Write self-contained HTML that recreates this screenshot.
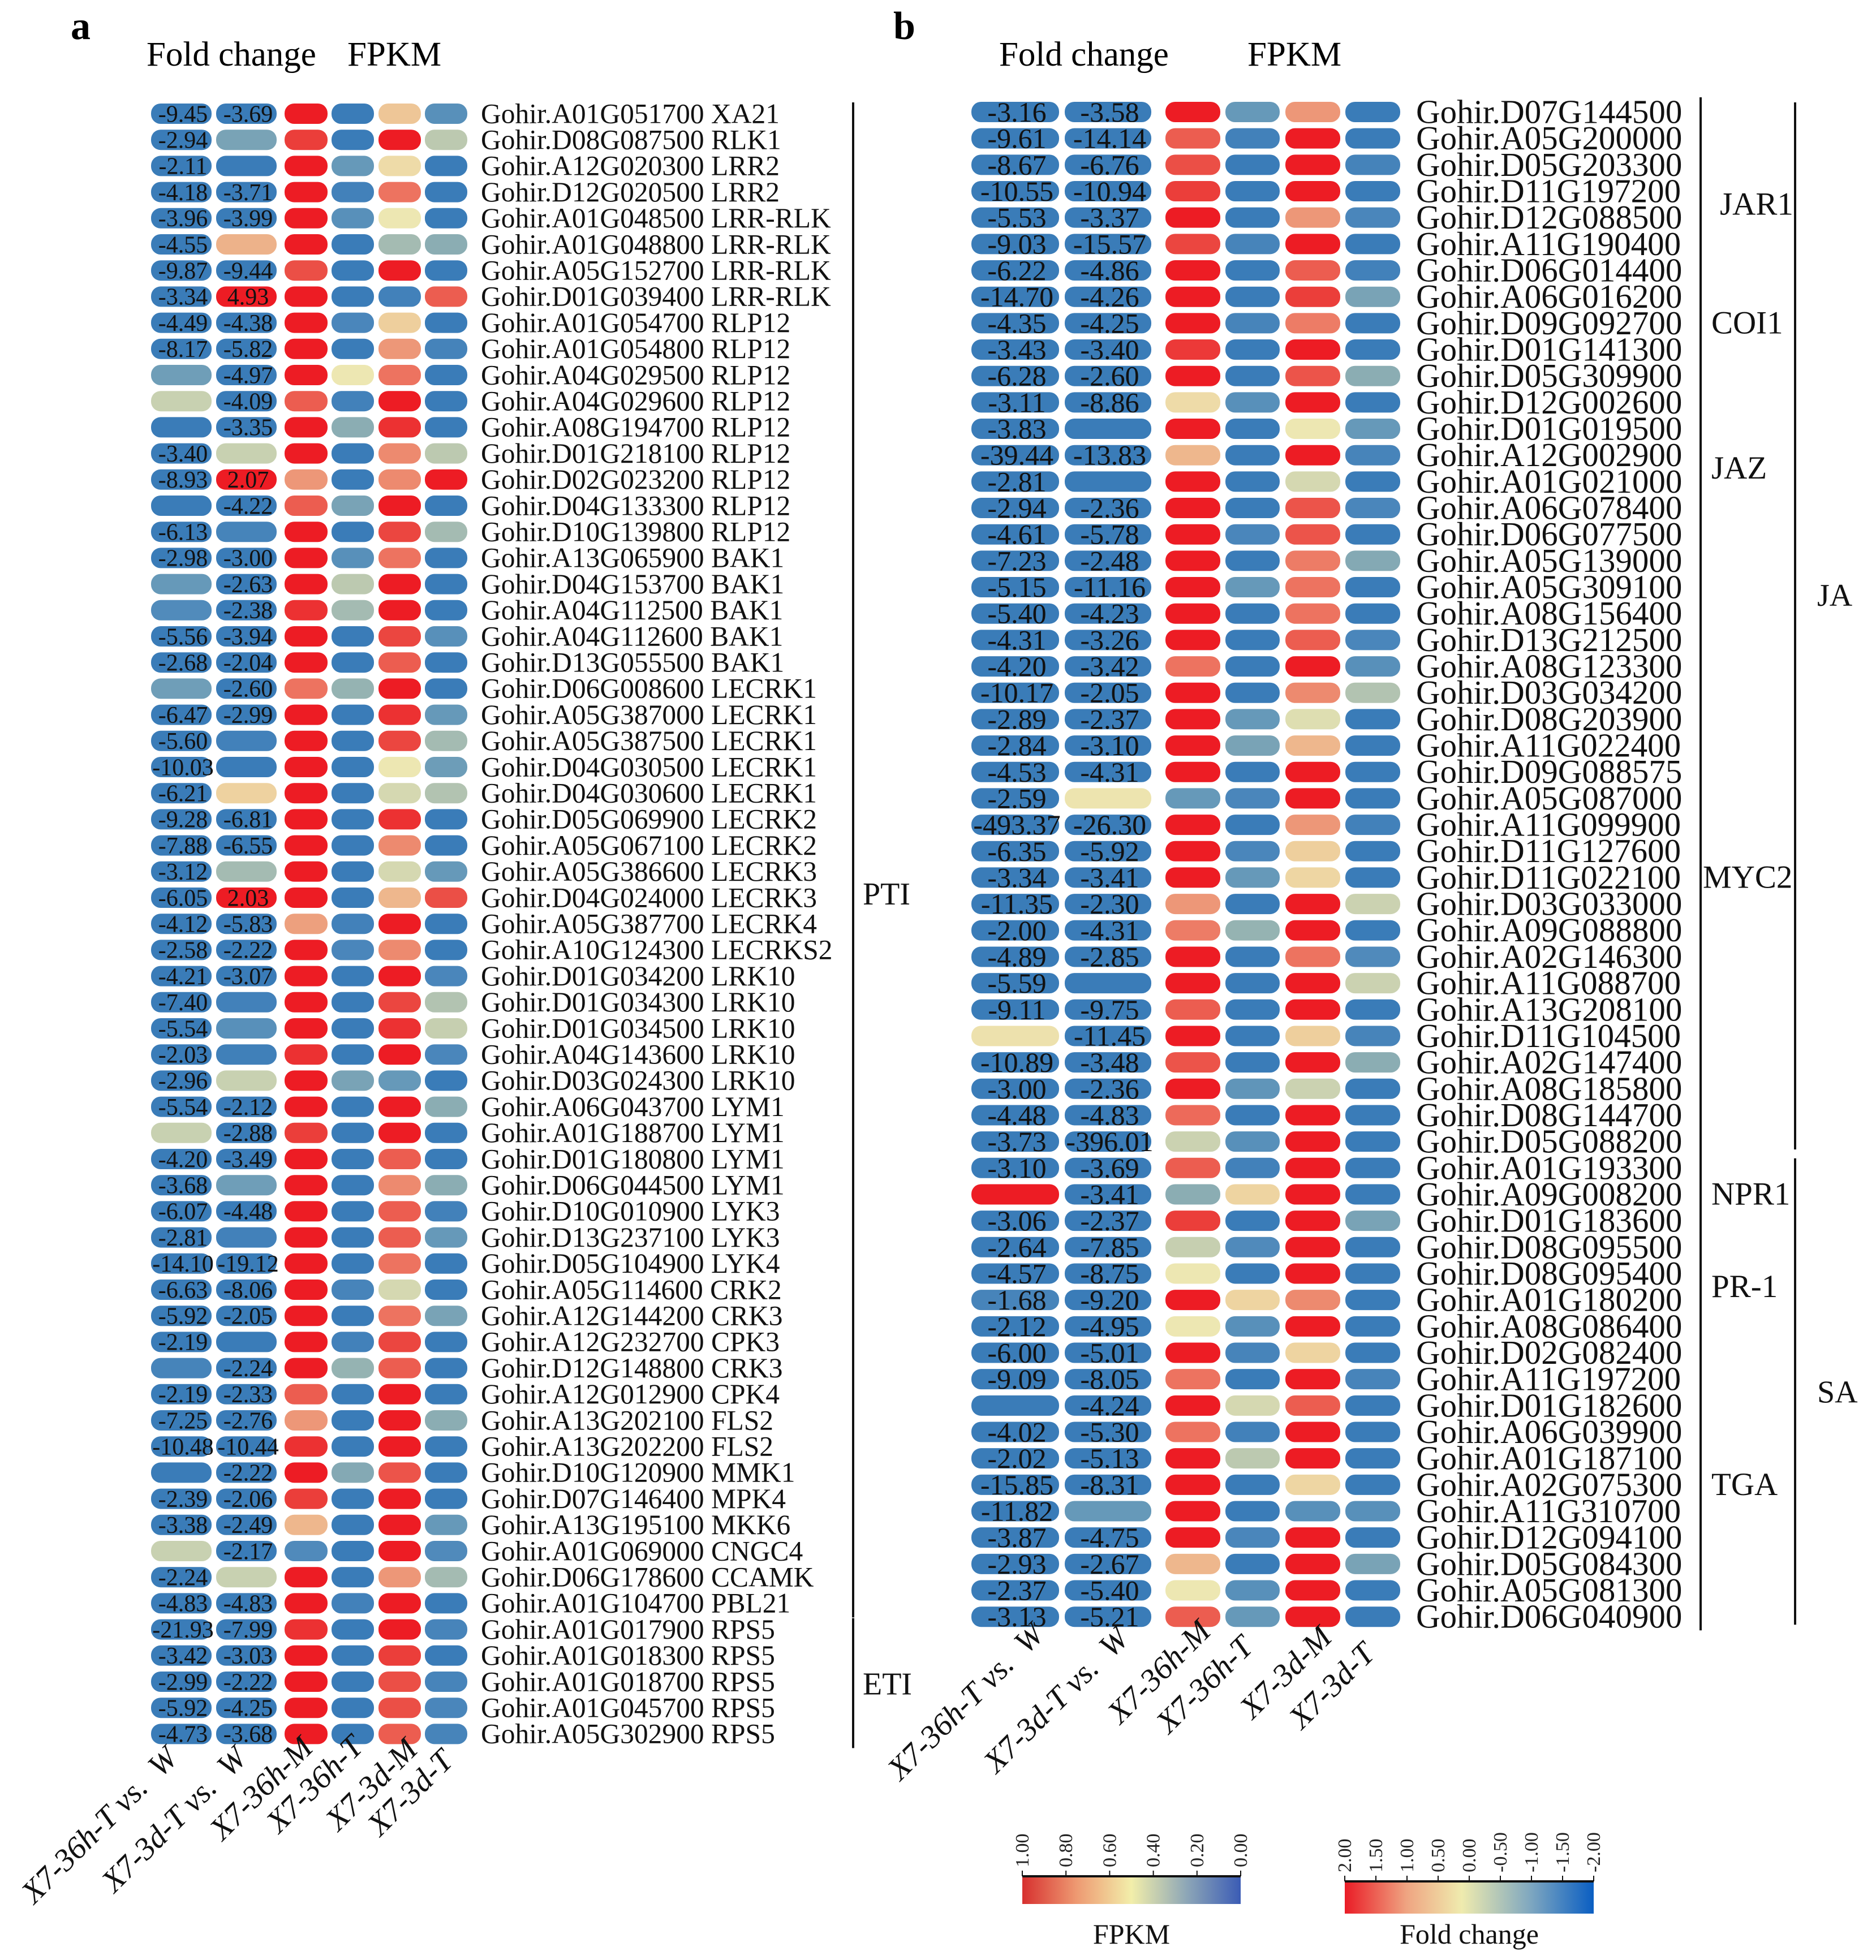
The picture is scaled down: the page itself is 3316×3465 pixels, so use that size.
<!DOCTYPE html>
<html><head><meta charset="utf-8"><style>
html,body{margin:0;padding:0;background:#fff;}
svg{display:block;font-family:"Liberation Serif",serif;}
</style></head><body>
<svg id="fig" width="3316" height="3465" viewBox="0 0 3316 3465" xmlns="http://www.w3.org/2000/svg">
<g>
<text x="125" y="69" font-size="70" font-weight="bold">a</text>
<text x="259" y="116" font-size="61">Fold change</text>
<text x="614" y="116" font-size="61">FPKM</text>
</g>
<g>
<text x="1579" y="69" font-size="70" font-weight="bold">b</text>
<text x="1766" y="116" font-size="61">Fold change</text>
<text x="2205" y="116" font-size="61">FPKM</text>
</g>
<g id="cellsA"></g>
<g id="cellsB"></g>
<g id="brackets"></g>
<g id="xlabels"></g>
<g id="legends"></g>
</svg>
<script>
// ---------------- Panel a data ----------------
const genesA = ["Gohir.A01G051700 XA21","Gohir.D08G087500 RLK1","Gohir.A12G020300 LRR2","Gohir.D12G020500 LRR2","Gohir.A01G048500 LRR-RLK","Gohir.A01G048800 LRR-RLK","Gohir.A05G152700 LRR-RLK","Gohir.D01G039400 LRR-RLK","Gohir.A01G054700 RLP12","Gohir.A01G054800 RLP12","Gohir.A04G029500 RLP12","Gohir.A04G029600 RLP12","Gohir.A08G194700 RLP12","Gohir.D01G218100 RLP12","Gohir.D02G023200 RLP12","Gohir.D04G133300 RLP12","Gohir.D10G139800 RLP12","Gohir.A13G065900 BAK1","Gohir.D04G153700 BAK1","Gohir.A04G112500 BAK1","Gohir.A04G112600 BAK1","Gohir.D13G055500 BAK1","Gohir.D06G008600 LECRK1","Gohir.A05G387000 LECRK1","Gohir.A05G387500 LECRK1","Gohir.D04G030500 LECRK1","Gohir.D04G030600 LECRK1","Gohir.D05G069900 LECRK2","Gohir.A05G067100 LECRK2","Gohir.A05G386600 LECRK3","Gohir.D04G024000 LECRK3","Gohir.A05G387700 LECRK4","Gohir.A10G124300 LECRKS2","Gohir.D01G034200 LRK10","Gohir.D01G034300 LRK10","Gohir.D01G034500 LRK10","Gohir.A04G143600 LRK10","Gohir.D03G024300 LRK10","Gohir.A06G043700 LYM1","Gohir.A01G188700 LYM1","Gohir.D01G180800 LYM1","Gohir.D06G044500 LYM1","Gohir.D10G010900 LYK3","Gohir.D13G237100 LYK3","Gohir.D05G104900 LYK4","Gohir.A05G114600 CRK2","Gohir.A12G144200 CRK3","Gohir.A12G232700 CPK3","Gohir.D12G148800 CRK3","Gohir.A12G012900 CPK4","Gohir.A13G202100 FLS2","Gohir.A13G202200 FLS2","Gohir.D10G120900 MMK1","Gohir.D07G146400 MPK4","Gohir.A13G195100 MKK6","Gohir.A01G069000 CNGC4","Gohir.D06G178600 CCAMK","Gohir.A01G104700 PBL21","Gohir.A01G017900 RPS5","Gohir.A01G018300 RPS5","Gohir.A01G018700 RPS5","Gohir.A01G045700 RPS5","Gohir.A05G302900 RPS5"];
// "~x" = unlabelled cell whose colour corresponds to fold-change x
const fc1A = [-9.45,-2.94,-2.11,-4.18,-3.96,-4.55,-9.87,-3.34,-4.49,-8.17,"~-1.1","~-0.3","~-2",-3.40,-8.93,"~-2",-6.13,-2.98,"~-1.2","~-1.5",-5.56,-2.68,"~-1.1",-6.47,-5.60,-10.03,-6.21,-9.28,-7.88,-3.12,-6.05,-4.12,-2.58,-4.21,-7.40,-5.54,-2.03,-2.96,-5.54,"~-0.3",-4.20,-3.68,-6.07,-2.81,-14.10,-6.63,-5.92,-2.19,"~-1.7",-2.19,-7.25,-10.48,"~-2",-2.39,-3.38,"~-0.3",-2.24,-4.83,-21.93,-3.42,-2.99,-5.92,-4.73];
const fc2A = [-3.69,"~-1",  "~-2",-3.71,-3.99,"~0.65",-9.44,4.93,-4.38,-5.82,-4.97,-4.09,-3.35,"~-0.3",2.07,-4.22,"~-1.7",-3.00,-2.63,-2.38,-3.94,-2.04,-2.60,-2.99,"~-1.8","~-2","~0.35",-6.81,-6.55,"~-0.6",2.03,-5.83,-2.22,-3.07,"~-1.8","~-1.4","~-1.85","~-0.3",-2.12,-2.88,-3.49,"~-1.1",-4.48,"~-1.8",-19.12,-8.06,-2.05,"~-2",-2.24,-2.33,-2.76,-10.44,-2.22,-2.06,-2.49,-2.17,"~-0.3",-4.83,-7.99,-3.03,-2.22,-4.25,-3.68];
const m36A = [1,0.92,1,1,1,1,0.88,1,1,1,1,0.85,1,1,0.72,0.85,1,1,1,0.95,1,1,0.8,1,1,1,1,1,1,1,1,0.7,1,1,1,1,0.95,1,1,0.92,1,1,1,1,1,1,1,1,1,0.85,0.72,0.95,1,0.92,0.65,0.12,1,1,0.95,1,1,1,1];
const t36A = [0,0,0.2,0.05,0.15,0,0,0,0.1,0,0.5,0.05,0.3,0,0,0.25,0,0.15,0.4,0.35,0,0,0.32,0,0,0,0,0,0,0,0,0.05,0.1,0,0,0,0,0.25,0,0,0,0,0,0,0,0.08,0,0.05,0.32,0,0,0,0.28,0,0,0,0,0.05,0,0,0,0,0];
const m3dA = [0.62,1,0.55,0.8,0.5,0.35,1,0.05,0.6,0.72,0.8,1,0.95,0.75,0.75,1,0.9,0.8,1,1,0.9,0.85,1,0.95,0.9,0.5,0.45,0.95,0.75,0.45,0.65,1,0.75,1,0.9,0.95,1,0.2,1,1,0.85,0.75,0.85,0.85,0.8,0.45,0.8,0.9,0.85,1,1,1,0.87,1,1,1,0.72,1,1,0.92,0.88,0.88,0.85];
const t3dA = [0.15,0.4,0,0,0,0.3,0,0.85,0,0.07,0,0,0,0.4,1,0,0.35,0,0,0,0.15,0,0,0.2,0.35,0.22,0.38,0,0,0.2,0.88,0,0,0.1,0.38,0.42,0.1,0,0.3,0,0,0.3,0.05,0.2,0,0,0.25,0,0,0,0.3,0,0,0,0.2,0.12,0.35,0,0.08,0,0.08,0.1,0.08];
const groupsA = [["PTI",0,57],["ETI",58,62]];

// ---------------- Panel b data ----------------
const genesB = ["Gohir.D07G144500","Gohir.A05G200000","Gohir.D05G203300","Gohir.D11G197200","Gohir.D12G088500","Gohir.A11G190400","Gohir.D06G014400","Gohir.A06G016200","Gohir.D09G092700","Gohir.D01G141300","Gohir.D05G309900","Gohir.D12G002600","Gohir.D01G019500","Gohir.A12G002900","Gohir.A01G021000","Gohir.A06G078400","Gohir.D06G077500","Gohir.A05G139000","Gohir.A05G309100","Gohir.A08G156400","Gohir.D13G212500","Gohir.A08G123300","Gohir.D03G034200","Gohir.D08G203900","Gohir.A11G022400","Gohir.D09G088575","Gohir.A05G087000","Gohir.A11G099900","Gohir.D11G127600","Gohir.D11G022100","Gohir.D03G033000","Gohir.A09G088800","Gohir.A02G146300","Gohir.A11G088700","Gohir.A13G208100","Gohir.D11G104500","Gohir.A02G147400","Gohir.A08G185800","Gohir.D08G144700","Gohir.D05G088200","Gohir.A01G193300","Gohir.A09G008200","Gohir.D01G183600","Gohir.D08G095500","Gohir.D08G095400","Gohir.A01G180200","Gohir.A08G086400","Gohir.D02G082400","Gohir.A11G197200","Gohir.D01G182600","Gohir.A06G039900","Gohir.A01G187100","Gohir.A02G075300","Gohir.A11G310700","Gohir.D12G094100","Gohir.D05G084300","Gohir.A05G081300","Gohir.D06G040900"];
const fc1B = [-3.16,-9.61,-8.67,-10.55,-5.53,-9.03,-6.22,-14.70,-4.35,-3.43,-6.28,-3.11,-3.83,-39.44,-2.81,-2.94,-4.61,-7.23,-5.15,-5.40,-4.31,-4.20,-10.17,-2.89,-2.84,-4.53,-2.59,-493.37,-6.35,-3.34,-11.35,-2.00,-4.89,-5.59,-9.11,"~0.1",-10.89,-3.00,-4.48,-3.73,-3.10,"~2",-3.06,-2.64,-4.57,-1.68,-2.12,-6.00,-9.09,"~-2",-4.02,-2.02,-15.85,-11.82,-3.87,-2.93,-2.37,-3.13];
const fc2B = [-3.58,-14.14,-6.76,-10.94,-3.37,-15.57,-4.86,-4.26,-4.25,-3.40,-2.60,-8.86,"~-2",-13.83,"~-2",-2.36,-5.78,-2.48,-11.16,-4.23,-3.26,-3.42,-2.05,-2.37,-3.10,-4.31,"~0.05",-26.30,-5.92,-3.41,-2.30,-4.31,-2.85,"~-2",-9.75,-11.45,-3.48,-2.36,-4.83,-396.01,-3.69,-3.41,-2.37,-7.85,-8.75,-9.20,-4.95,-5.01,-8.05,-4.24,-5.30,-5.13,-8.31,"~-1.2",-4.75,-2.67,-5.40,-5.21];
const m36B = [1,0.85,0.88,0.92,1,0.9,1,1,1,0.93,1,0.55,1,0.65,1,1,1,1,1,1,1,0.8,1,1,1,1,0.2,1,1,1,0.72,0.78,1,1,0.85,1,0.87,1,0.82,0.43,0.85,0.3,0.92,0.42,0.5,1,0.5,1,0.8,1,0.8,1,1,1,1,0.65,0.5,0.85];
const t36B = [0.2,0.05,0,0,0,0.08,0,0,0.08,0,0,0.15,0,0,0,0,0.1,0,0.2,0,0,0,0,0.2,0.25,0,0.1,0,0.1,0.2,0,0.32,0,0,0,0,0,0.18,0,0.15,0.05,0.58,0,0.12,0,0.58,0.15,0.08,0,0.45,0.05,0.4,0,0,0.1,0,0.15,0.2];
const m3dB = [0.72,1,1,1,0.72,1,0.85,0.92,0.78,1,0.87,1,0.5,1,0.45,0.87,0.87,0.78,0.8,0.8,0.85,1,0.75,0.47,0.65,1,1,0.72,0.6,0.57,1,1,0.8,1,1,0.6,1,0.43,1,1,1,1,1,1,1,0.75,1,0.58,1,0.85,1,1,0.57,0.15,1,1,1,1];
const t3dB = [0,0,0.07,0,0.1,0,0.05,0.25,0,0,0.3,0,0.2,0.08,0,0.1,0,0.28,0,0,0.1,0.15,0.38,0,0,0,0,0.05,0,0,0.43,0,0.12,0.43,0,0.08,0.3,0,0,0,0,0,0.25,0,0,0,0,0,0.08,0,0,0,0,0.15,0,0.25,0,0];
const innerGroupsB = [["JAR1",0,7],["COI1",8,8],["JAZ",9,18],["MYC2",19,39],["NPR1",40,42],["PR-1",43,46],["TGA",47,57]];
const outerGroupsB = [["JA",0,39],["SA",40,57]];

const colNames = ["X7-36h-T vs.  W","X7-3d-T vs.  W","X7-36h-M","X7-36h-T","X7-3d-M","X7-3d-T"];
const fpkmTicks = ["1.00","0.80","0.60","0.40","0.20","0.00"];
const fcTicks = ["2.00","1.50","1.00","0.50","0.00","-0.50","-1.00","-1.50","-2.00"];

// ---------------- helpers ----------------
const NS = "http://www.w3.org/2000/svg";
const stops = [[0,[58,124,184]],[0.1,[74,134,187]],[0.2,[102,153,185]],[0.3,[139,173,179]],[0.4,[188,201,176]],[0.5,[237,231,178]],[0.6,[238,207,157]],[0.7,[237,160,126]],[0.8,[237,115,96]],[0.9,[235,70,64]],[1,[237,28,36]]];
function colorAt(t){
  t = Math.max(0, Math.min(1, t));
  for (let i = 1; i < stops.length; i++) {
    if (t <= stops[i][0]) {
      const a = stops[i-1], b = stops[i];
      const f = (t - a[0]) / (b[0] - a[0]);
      const c = a[1].map((v, k) => Math.round(v + (b[1][k] - v) * f));
      return "rgb(" + c.join(",") + ")";
    }
  }
  return "rgb(237,28,36)";
}
function fcScale(v){ return (Math.max(-2, Math.min(2, v)) + 2) / 4; }
function mk(tag, attrs, parent){
  const e = document.createElementNS(NS, tag);
  for (const k in attrs) e.setAttribute(k, attrs[k]);
  parent.appendChild(e);
  return e;
}

function drawPanel(gid, cfg, genes, fcs, fpkms){
  const g = document.getElementById(gid);
  const rowY = i => cfg.y0 + i * cfg.pitch;
  genes.forEach((name, i) => {
    const cy = rowY(i);
    fcs.forEach((arr, c) => {
      const raw = arr[i];
      const blank = typeof raw === "string";
      const v = blank ? parseFloat(raw.slice(1)) : raw;
      const r = mk("rect", {x: cfg.cols[c][0], y: cy - cfg.h/2, width: cfg.cols[c][1] - cfg.cols[c][0], height: cfg.h, rx: cfg.rx, fill: colorAt(fcScale(v))}, g);
      
      
      if (!blank) {
        const t = mk("text", {x: (cfg.cols[c][0] + cfg.cols[c][1]) / 2 + cfg.numDx, y: cy + cfg.numFs * 0.34, "font-size": cfg.numFs, "text-anchor": "middle", fill: "#111"}, g);
        t.textContent = v.toFixed(2);
        
        
      }
    });
    fpkms.forEach((arr, c) => {
      const col = cfg.cols[c + 2];
      const r = mk("rect", {x: col[0], y: cy - cfg.h/2, width: col[1] - col[0], height: cfg.h, rx: cfg.rx, fill: colorAt(arr[i])}, g);
      
      
    });
    const lt = mk("text", {x: cfg.labelX, y: cy + cfg.labFs * 0.33, "font-size": cfg.labFs, fill: "#111"}, g);
    lt.textContent = name;
    
    
  });
  return rowY;
}

const cfgA = {y0: 201, pitch: 46.2, h: 36, rx: 17, cols: [[267,374],[382,489],[503,579],[586,661],[669,744],[751,826]], labelX: 850, labFs: 49.5, numFs: 42, numDx: 3};
const cfgB = {y0: 198, pitch: 46.67, h: 36, rx: 17, cols: [[1717,1872],[1882,2035],[2060,2157],[2166,2262],[2272,2369],[2378,2475]], labelX: 2503, labFs: 59, numFs: 50, numDx: 3};
const rowA = drawPanel("cellsA", cfgA, genesA, [fc1A, fc2A], [m36A, t36A, m3dA, t3dA]);
const rowB = drawPanel("cellsB", cfgB, genesB, [fc1B, fc2B], [m36B, t36B, m3dB, t3dB]);

// ---------------- brackets ----------------
const bg = document.getElementById("brackets");
function bracket(x, y1, y2, label, lx, ly, fs){
  const l = mk("line", {x1: x, x2: x, y1: y1, y2: y2, stroke: "#111", "stroke-width": 4}, bg);
  
  
  const t = mk("text", {x: lx, y: ly, "font-size": fs, fill: "#111"}, bg);
  t.textContent = label;
  
  
}
groupsA.forEach(([lab, a, b]) => {
  const y1 = rowA(a) - 20, y2 = rowA(b) + 25;
  bracket(1508, y1, y2, lab, 1525, (lab === "PTI" ? 1579 : (y1 + y2) / 2) + 20, 56);
});
innerGroupsB.forEach(([lab, a, b]) => {
  const y1 = rowB(a) - 26, y2 = rowB(b) + 24;
  const lx = lab === "MYC2" ? 3010 : (lab === "JAR1" ? 3040 : 3025);
  bracket(3006, y1, y2, lab, lx, (rowB(a) + rowB(b)) / 2 + 18, 57);
});
outerGroupsB.forEach(([lab, a, b]) => {
  const y1 = rowB(a) - 17, y2 = rowB(b) + 14;
  bracket(3173, y1, y2, lab, 3212, (rowB(a) + rowB(b)) / 2 - (lab === "JA" ? 55 : 0) + 18, 56);
});

// ---------------- column labels ----------------
const xg = document.getElementById("xlabels");
const endsA = [[317,3111],[439,3111],[556,3093],[645,3091],[741,3096],[804,3116]];
const endsB = [[1848,2893],[1998,2900],[2143,2887],[2218,2915],[2357,2898],[2433,2927]];
[endsA, endsB].forEach(ends => {
  colNames.forEach((n, i) => {
    const t = mk("text", {x: ends[i][0], y: ends[i][1], "font-size": 56, "font-style": "italic", "text-anchor": "end", transform: "rotate(-45 " + ends[i][0] + " " + ends[i][1] + ")", fill: "#111"}, xg);
    t.setAttribute("xml:space", "preserve");
    t.style.whiteSpace = "pre";
    t.textContent = n;
    
    
  });
});

// ---------------- legends ----------------
const lg = document.getElementById("legends");
const defs = mk("defs", {}, lg);
const g1 = mk("linearGradient", {id: "gFpkm", x1: 0, x2: 1, y1: 0, y2: 0}, defs);
[["0","#d7302f"],["0.25","#ee9a72"],["0.5","#f2eeaa"],["0.75","#8ea7b7"],["1","#3b5cb5"]].forEach(s => mk("stop", {offset: s[0], "stop-color": s[1]}, g1));
const g2 = mk("linearGradient", {id: "gFc", x1: 0, x2: 1, y1: 0, y2: 0}, defs);
[["0","#ea1c26"],["0.25","#efa582"],["0.47","#efebae"],["0.75","#7da6c0"],["1","#0a5ec2"]].forEach(s => mk("stop", {offset: s[0], "stop-color": s[1]}, g2));

function legend(x1, x2, yTop, h, grad, ticks, title, id){
  const r = mk("rect", {x: x1, y: yTop, width: x2 - x1, height: h, fill: "url(#" + grad + ")"}, lg);
  
  
  const ax = mk("line", {x1: x1, x2: x2, y1: yTop, y2: yTop, stroke: "#111", "stroke-width": 4}, lg);
  
  
  ticks.forEach((tk, i) => {
    const x = x1 + (x2 - x1) * i / (ticks.length - 1);
    const tl = mk("line", {x1: x, x2: x, y1: yTop, y2: yTop - 10, stroke: "#111", "stroke-width": 2}, lg);
    
    
    const ty = yTop - 16;
    const t = mk("text", {x: x + 11, y: ty, "font-size": 34, transform: "rotate(-90 " + (x + 11) + " " + ty + ")", fill: "#222"}, lg);
    t.textContent = tk;
    
    
  });
  const tt = mk("text", {x: (x1 + x2) / 2, y: 3436, "font-size": 50, "text-anchor": "middle", fill: "#111"}, lg);
  tt.textContent = title;
  
  
}
legend(1807, 2193, 3317, 49, "gFpkm", fpkmTicks, "FPKM", "fpkm-legend");
legend(2377, 2817, 3326, 57, "gFc", fcTicks, "Fold change", "fold-change-legend");
</script>
</body></html>
